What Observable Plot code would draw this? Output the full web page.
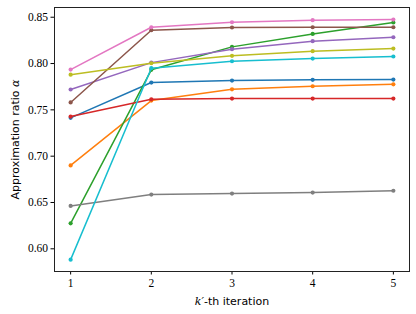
<!DOCTYPE html>
<html>
<head>
<meta charset="utf-8">
<script src="https://cdn.jsdelivr.net/npm/d3@7"></script>
<script src="https://cdn.jsdelivr.net/npm/@observablehq/plot@0.6"></script>
<style>
  html, body { margin: 0; padding: 0; background: #fff; }
</style>
</head>
<body>
<div id="chart"></div>
<script>
const iterations = [1, 2, 3, 4, 5];
const seriesNames = ["s1", "s2", "s3", "s4", "s5", "s6", "s7", "s8", "s9", "s10"];
const seriesColors = ["#1f77b4", "#ff7f0e", "#2ca02c", "#d62728", "#9467bd", "#8c564b", "#e377c2", "#7f7f7f", "#bcbd22", "#17becf"];
const blueValues   = [0.7414, 0.7795, 0.7816, 0.7824, 0.7827];
const orangeValues = [0.6900, 0.7600, 0.7722, 0.7755, 0.7776];
const greenValues  = [0.6275, 0.7932, 0.8180, 0.8320, 0.8443];
const redValues    = [0.7428, 0.7614, 0.7622, 0.7622, 0.7622];
const purpleValues = [0.7720, 0.8010, 0.8155, 0.8241, 0.8284];
const brownValues  = [0.7580, 0.8360, 0.8389, 0.8392, 0.8392];
const pinkValues   = [0.7935, 0.8392, 0.8446, 0.8468, 0.8475];
const grayValues   = [0.6463, 0.6585, 0.6596, 0.6607, 0.6627];
const oliveValues  = [0.7880, 0.8003, 0.8083, 0.8133, 0.8162];
const cyanValues   = [0.5883, 0.7950, 0.8025, 0.8054, 0.8076];
const yTicks = [0.60, 0.65, 0.70, 0.75, 0.80, 0.85];
const xTicks = [1, 2, 3, 4, 5];

const allValues = [blueValues, orangeValues, greenValues, redValues, purpleValues,
                   brownValues, pinkValues, grayValues, oliveValues, cyanValues];
const data = [];
seriesNames.forEach((name, i) => {
  allValues[i].forEach((v, j) => data.push({series: name, k: iterations[j], value: v}));
});

const tickFont = "'Liberation Serif', 'DejaVu Serif', serif";
const marks = [];
seriesNames.forEach((name) => {
  const d = data.filter(r => r.series === name);
  marks.push(Plot.line(d, {x: "k", y: "value", stroke: "series", strokeWidth: 1.5}));
  marks.push(Plot.dot(d, {x: "k", y: "value", fill: "series", r: 2.1}));
});

const chart = Plot.plot({
  width: 416,
  height: 314,
  marginLeft: 54,
  marginRight: 7,
  marginTop: 7,
  marginBottom: 43,
  style: {fontFamily: tickFont, fontSize: "11.5px", color: "#000", background: "#fff"},
  x: {domain: [0.8, 5.2]},
  y: {domain: [0.5755, 0.8605]},
  color: {domain: seriesNames, range: seriesColors},
  marks: [
    Plot.axisY({ticks: yTicks, tickFormat: d3.format(".2f"), tickSize: 3.5, tickPadding: 3,
      fontFamily: tickFont, fontSize: 11.5,
      label: "Approximation ratio α", labelAnchor: "center", labelOffset: 43, labelArrow: "none"}),
    Plot.axisX({ticks: xTicks, tickFormat: d3.format("d"), tickSize: 3.5, tickPadding: 4,
      fontFamily: tickFont, fontSize: 11.5,
      label: "k′-th iteration", labelAnchor: "center", labelOffset: 33, labelArrow: "none"}),
    ...marks,
    Plot.frame({stroke: "#222", strokeWidth: 1})
  ]
});
document.getElementById("chart").appendChild(chart);

const svg = d3.select(chart);
svg.selectAll('g[aria-label="y-axis tick label"] text, g[aria-label="x-axis tick label"] text')
  .attr("font-family", tickFont).attr("font-size", "11.5px");
svg.selectAll('g[aria-label="y-axis label"] text, g[aria-label="x-axis label"] text')
  .attr("font-family", "'DejaVu Sans', sans-serif")
  .attr("font-size", "11px");
const yl = svg.select('g[aria-label="y-axis label"] text');
if (!yl.empty()) {
  yl.text(null);
  yl.append("tspan").text("Approximation ratio ");
  yl.append("tspan").attr("font-family", "'DejaVu Serif', serif").attr("font-style", "italic").text("α");
}
const xl = svg.select('g[aria-label="x-axis label"] text');
if (!xl.empty()) {
  xl.text(null);
  xl.append("tspan").attr("font-family", "'DejaVu Serif', serif").attr("font-style", "italic").text("k′");
  xl.append("tspan").text("-th iteration");
}
</script>
</body>
</html>
